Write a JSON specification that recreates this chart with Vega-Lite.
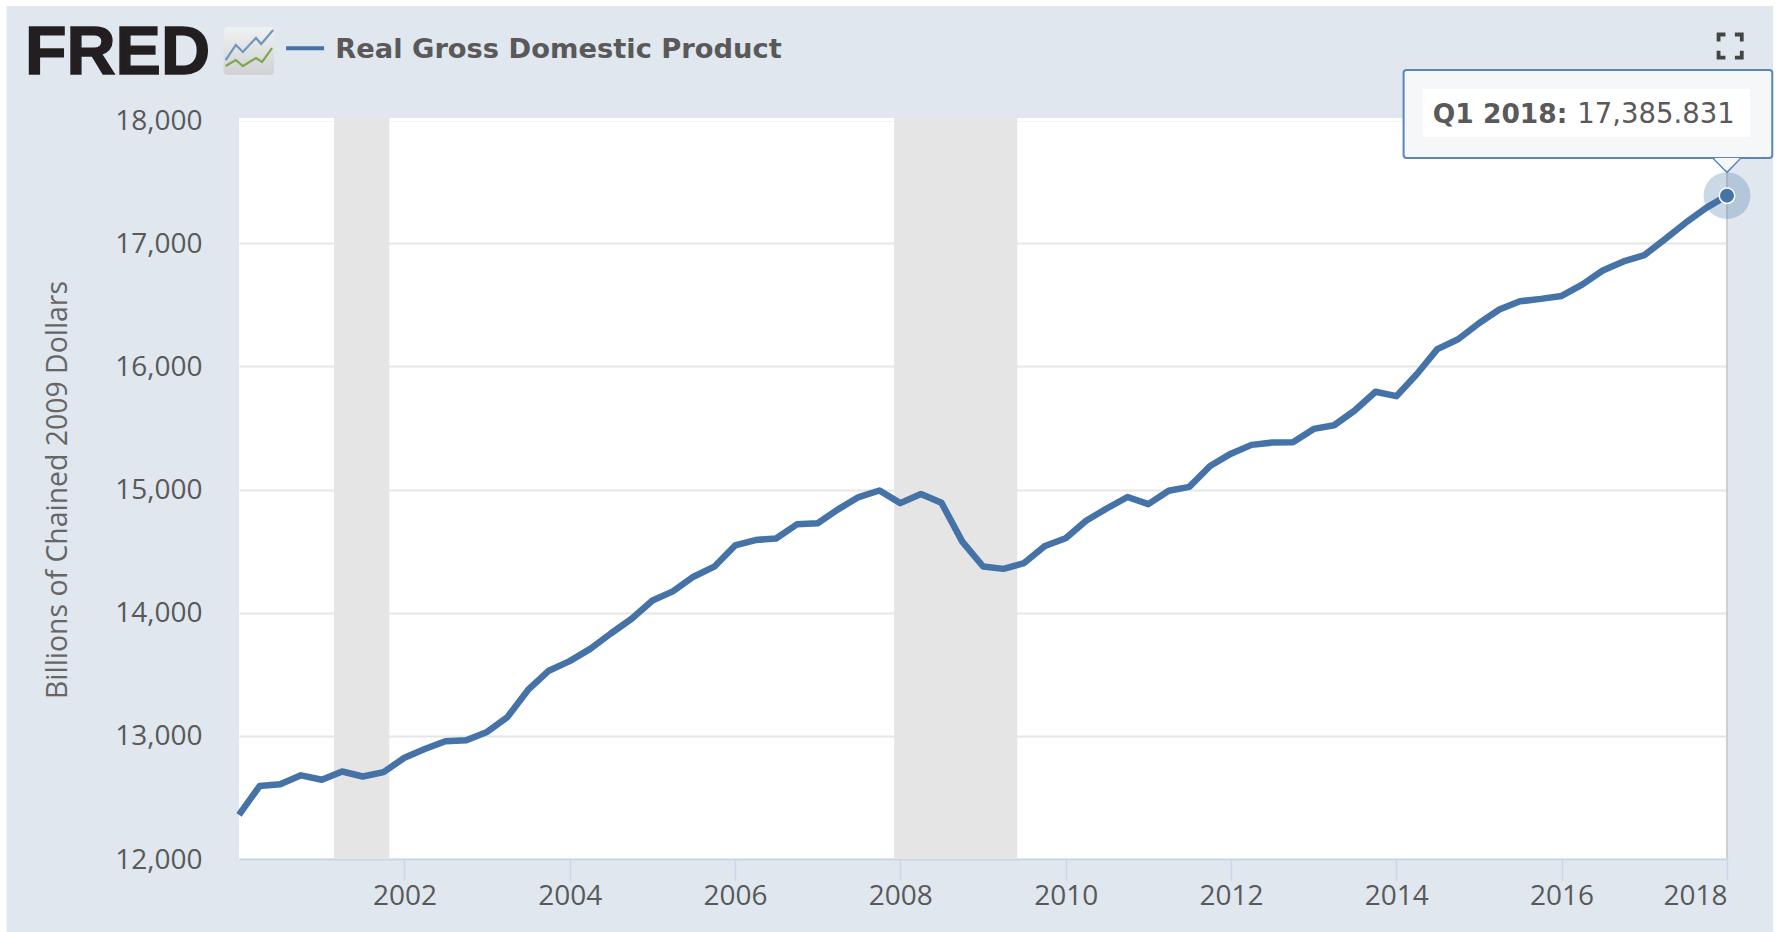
{
"$schema":"https://vega.github.io/schema/vega-lite/v6.json",
"width":1488,"height":739,
"autosize":{"type":"none"},
"padding":{"left":239,"top":120,"right":50,"bottom":73},
"background":"#e0e7ef",
"view":{"fill":"#ffffff","stroke":null},
"datasets":{
"gdp":[
{"d":"2000-01-01","v":12359.1},{"d":"2000-04-01","v":12592.5},{"d":"2000-07-01","v":12607.7},{"d":"2000-10-01","v":12679.3},
{"d":"2001-01-01","v":12643.3},{"d":"2001-04-01","v":12710.3},{"d":"2001-07-01","v":12670.1},{"d":"2001-10-01","v":12705.3},
{"d":"2002-01-01","v":12822.3},{"d":"2002-04-01","v":12893.0},{"d":"2002-07-01","v":12955.8},{"d":"2002-10-01","v":12964.0},
{"d":"2003-01-01","v":13031.2},{"d":"2003-04-01","v":13152.1},{"d":"2003-07-01","v":13372.4},{"d":"2003-10-01","v":13528.7},
{"d":"2004-01-01","v":13606.5},{"d":"2004-04-01","v":13706.2},{"d":"2004-07-01","v":13830.8},{"d":"2004-10-01","v":13950.4},
{"d":"2005-01-01","v":14099.1},{"d":"2005-04-01","v":14172.7},{"d":"2005-07-01","v":14291.8},{"d":"2005-10-01","v":14373.4},
{"d":"2006-01-01","v":14546.1},{"d":"2006-04-01","v":14589.6},{"d":"2006-07-01","v":14602.6},{"d":"2006-10-01","v":14716.9},
{"d":"2007-01-01","v":14726.0},{"d":"2007-04-01","v":14838.7},{"d":"2007-07-01","v":14938.5},{"d":"2007-10-01","v":14991.8},
{"d":"2008-01-01","v":14889.5},{"d":"2008-04-01","v":14963.4},{"d":"2008-07-01","v":14891.6},{"d":"2008-10-01","v":14577.0},
{"d":"2009-01-01","v":14375.0},{"d":"2009-04-01","v":14355.6},{"d":"2009-07-01","v":14402.5},{"d":"2009-10-01","v":14541.9},
{"d":"2010-01-01","v":14604.8},{"d":"2010-04-01","v":14745.9},{"d":"2010-07-01","v":14845.5},{"d":"2010-10-01","v":14939.0},
{"d":"2011-01-01","v":14881.3},{"d":"2011-04-01","v":14989.6},{"d":"2011-07-01","v":15021.1},{"d":"2011-10-01","v":15190.3},
{"d":"2012-01-01","v":15291.0},{"d":"2012-04-01","v":15362.4},{"d":"2012-07-01","v":15380.8},{"d":"2012-10-01","v":15384.3},
{"d":"2013-01-01","v":15491.9},{"d":"2013-04-01","v":15521.6},{"d":"2013-07-01","v":15641.3},{"d":"2013-10-01","v":15793.9},
{"d":"2014-01-01","v":15757.6},{"d":"2014-04-01","v":15935.8},{"d":"2014-07-01","v":16139.5},{"d":"2014-10-01","v":16220.2},
{"d":"2015-01-01","v":16350.0},{"d":"2015-04-01","v":16460.9},{"d":"2015-07-01","v":16527.6},{"d":"2015-10-01","v":16547.6},
{"d":"2016-01-01","v":16571.6},{"d":"2016-04-01","v":16663.5},{"d":"2016-07-01","v":16778.1},{"d":"2016-10-01","v":16851.4},
{"d":"2017-01-01","v":16903.2},{"d":"2017-04-01","v":17031.1},{"d":"2017-07-01","v":17163.9},{"d":"2017-10-01","v":17286.5},
{"d":"2018-01-01","v":17385.831}],
"recessions":[{"s":"2001-02-24","e":"2001-10-26","lo":12000,"hi":18016},{"s":"2007-12-05","e":"2009-06-01","lo":12000,"hi":18016}],
"margins":[
{"s":"1995-01-01","e":"1997-03-10","lo":11000,"hi":20000},
{"s":"1995-01-01","e":"2020-01-01","lo":18925,"hi":20000},
{"s":"2018-07-24","e":"2020-01-01","lo":11000,"hi":20000},
{"s":"2000-01-01","e":"2018-01-01","lo":17990,"hi":18016}],
"last":[{"d":"2018-01-01","v":17385.831}],
"edge":[{"d":"2018-01-01"}],
"icon":[
{"s":"blue","d":"1999-11-03","v":18487,"o":1},{"s":"blue","d":"1999-12-18","v":18609,"o":2},{"s":"blue","d":"2000-01-18","v":18552,"o":3},{"s":"blue","d":"2000-03-16","v":18666,"o":4},{"s":"blue","d":"2000-04-08","v":18617,"o":5},{"s":"blue","d":"2000-05-31","v":18731,"o":6},
{"s":"green","d":"1999-11-03","v":18438,"o":1},{"s":"green","d":"1999-12-18","v":18487,"o":2},{"s":"green","d":"2000-01-18","v":18438,"o":3},{"s":"green","d":"2000-03-16","v":18503,"o":4},{"s":"green","d":"2000-04-12","v":18471,"o":5},{"s":"green","d":"2000-05-26","v":18584,"o":6}]
},
"encoding":{},
"layer":[
{"data":{"name":"margins"},"mark":{"type":"rect","fill":"#ffffff"},
 "encoding":{"x":{"field":"s","type":"temporal","scale":{"type":"utc","domain":["2000-01-01","2018-01-01"]},
   "axis":{"title":null,"values":["2002-01-01","2004-01-01","2006-01-01","2008-01-01","2010-01-01","2012-01-01","2014-01-01","2016-01-01","2018-01-01"],"format":"%Y","grid":false,"domainColor":"#ccd6eb","domainWidth":2,"tickColor":"#ccd6eb","tickWidth":1.5,"tickSize":21,"labelFont":"Open Sans","labelFontSize":28,"labelColor":"#595959","labelPadding":2,"labelFlush":false,"labelOverlap":false,"labelAlign":{"condition":{"test":"utcyear(datum.value)===2018","value":"right"},"value":"center"}}},
  "x2":{"field":"e"},
  "y":{"field":"lo","type":"quantitative","scale":{"domain":[12000,18000],"nice":false,"zero":false},
   "axis":{"title":"Billions of Chained 2009 Dollars","values":[12000,13000,14000,15000,16000,17000,18000],"format":",d","grid":true,"gridColor":"#e6e6e6","gridWidth":2,"domain":false,"ticks":false,"labelFont":"Open Sans","labelFontSize":28,"labelColor":"#595959","labelPadding":37,"labelOffset":1,"titleFont":"Open Sans","titleFontSize":28.4,"titleFontWeight":"normal","titleColor":"#666666","titleX":-182,"titleAnchor":"middle","titleBaseline":"middle"}},
  "y2":{"field":"hi"}}},
{"data":{"name":"recessions"},"mark":{"type":"rect","fill":"#e5e5e5"},
 "encoding":{"x":{"field":"s","type":"temporal"},"x2":{"field":"e"},"y":{"field":"lo","type":"quantitative"},"y2":{"field":"hi"}}},
{"data":{"name":"edge"},"mark":{"type":"rule","color":"#cfcfcf","strokeWidth":2},
 "encoding":{"x":{"field":"d","type":"temporal"}}},
{"data":{"name":"gdp"},"mark":{"type":"line","color":"#4572a7","strokeWidth":6.5,"strokeJoin":"round"},
 "encoding":{"x":{"field":"d","type":"temporal"},"y":{"field":"v","type":"quantitative"}}},
{"data":{"values":[{"a":"FRED","d":"1997-05-30","v":18373}]},"mark":{"type":"text","font":"Liberation Sans","fontWeight":"bold","fontSize":68,"align":"left","baseline":"alphabetic","fill":"#231f20","stroke":"#231f20","strokeWidth":1.5},
 "encoding":{"x":{"field":"d","type":"temporal"},"y":{"field":"v","type":"quantitative"},"text":{"field":"a"}}},
{"data":{"values":[{"s":"1999-10-25","e":"2000-06-04","lo":18365,"hi":18755}]},"mark":{"type":"rect","cornerRadius":4,"fill":{"gradient":"linear","x1":0,"y1":0,"x2":0,"y2":1,"stops":[{"offset":0,"color":"#f0f1f2"},{"offset":1,"color":"#cfd1d2"}]}},
 "encoding":{"x":{"field":"s","type":"temporal"},"x2":{"field":"e"},"y":{"field":"lo","type":"quantitative"},"y2":{"field":"hi"}}},
{"data":{"name":"icon"},"mark":{"type":"line","strokeWidth":2.2},
 "encoding":{"x":{"field":"d","type":"temporal"},"y":{"field":"v","type":"quantitative"},"order":{"field":"o"},"detail":{"field":"s"},
  "color":{"field":"s","type":"nominal","scale":{"domain":["blue","green"],"range":["#6f97bd","#7fa84f"]},"legend":null}}},
{"data":{"values":[{"s":"2000-07-27","e":"2001-01-11","v":18582}]},"mark":{"type":"rule","color":"#4572a7","strokeWidth":4},
 "encoding":{"x":{"field":"s","type":"temporal"},"x2":{"field":"e"},"y":{"field":"v","type":"quantitative"}}},
{"data":{"values":[{"a":"Real Gross Domestic Product","d":"2001-03-01","v":18568}]},"mark":{"type":"text","font":"DejaVu Sans","fontWeight":"bold","fontSize":27.3,"align":"left","baseline":"middle","fill":"#595959"},
 "encoding":{"x":{"field":"d","type":"temporal"},"y":{"field":"v","type":"quantitative"},"text":{"field":"a"}}},
{"data":{"values":[{"d":"2018-01-15","v":18600}]},"mark":{"type":"point","filled":true,"size":729,"color":"#444444","opacity":1,"shape":"M-1,-1H-0.35V-0.72H-0.72V-0.35H-1ZM1,-1H0.35V-0.72H0.72V-0.35H1ZM-1,1H-0.35V0.72H-0.72V0.35H-1ZM1,1H0.35V0.72H0.72V0.35H1Z"},
 "encoding":{"x":{"field":"d","type":"temporal"},"y":{"field":"v","type":"quantitative"}}},
{"data":{"values":[{"d":"2018-01-01","v":17385.831}]},"mark":{"type":"point","filled":true,"size":2200,"color":"#4572a7","opacity":0.28},
 "encoding":{"x":{"field":"d","type":"temporal"},"y":{"field":"v","type":"quantitative"}}},
{"data":{"name":"last"},"mark":{"type":"point","filled":true,"size":240,"fill":"#4572a7","stroke":"#ffffff","strokeWidth":1.5,"opacity":1},
 "encoding":{"x":{"field":"d","type":"temporal"},"y":{"field":"v","type":"quantitative"}}},
{"data":{"values":[{"s":"2014-02-02","e":"2018-07-20","lo":17691,"hi":18405}]},"mark":{"type":"rect","fill":"#f6f7f9","stroke":"#5b86b8","strokeWidth":2,"cornerRadius":3},
 "encoding":{"x":{"field":"s","type":"temporal"},"x2":{"field":"e"},"y":{"field":"lo","type":"quantitative"},"y2":{"field":"hi"}}},
{"data":{"values":[{"s":"2014-04-27","e":"2018-04-13","lo":17862,"hi":18252}]},"mark":{"type":"rect","fill":"#ffffff"},
 "encoding":{"x":{"field":"s","type":"temporal"},"x2":{"field":"e"},"y":{"field":"lo","type":"quantitative"},"y2":{"field":"hi"}}},
{"data":{"values":[{"o":1,"d":"2017-10-30","v":17691},{"o":2,"d":"2018-01-01","v":17575},{"o":3,"d":"2018-03-03","v":17691}]},"mark":{"type":"line","color":"#5b86b8","strokeWidth":1.5},
 "encoding":{"x":{"field":"d","type":"temporal"},"y":{"field":"v","type":"quantitative"},"order":{"field":"o"}}},
{"data":{"values":[{"d":"2018-01-01","v":17634}]},"mark":{"type":"point","filled":true,"size":729,"fill":"#f6f7f9","opacity":1,"shape":"M-0.95,-0.52L0.95,-0.52L0,0.42Z"},
 "encoding":{"x":{"field":"d","type":"temporal"},"y":{"field":"v","type":"quantitative"}}},
{"data":{"values":[{"a":"Q1 2018:","d":"2014-06-11","v":18040}]},"mark":{"type":"text","font":"DejaVu Sans","fontWeight":"bold","fontSize":26.5,"align":"left","baseline":"middle","fill":"#595959"},
 "encoding":{"x":{"field":"d","type":"temporal"},"y":{"field":"v","type":"quantitative"},"text":{"field":"a"}}},
{"data":{"values":[{"a":"17,385.831","d":"2016-03-10","v":18040}]},"mark":{"type":"text","font":"DejaVu Sans","fontSize":27.5,"align":"left","baseline":"middle","fill":"#595959"},
 "encoding":{"x":{"field":"d","type":"temporal"},"y":{"field":"v","type":"quantitative"},"text":{"field":"a"}}}
]
}
